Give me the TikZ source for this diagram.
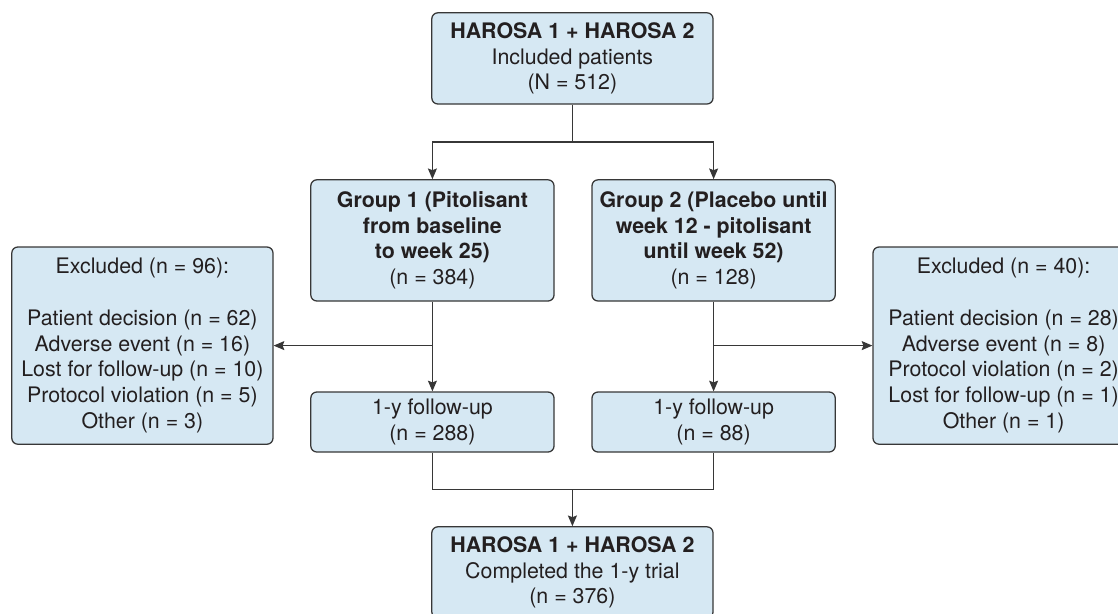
\documentclass[tikz,border=0pt]{standalone}
\usepackage{fontspec}
\setmainfont{TeX Gyre Heros}
\usetikzlibrary{arrows.meta}
\definecolor{boxfill}{RGB}{214,232,243}
\definecolor{boxline}{RGB}{55,55,55}
\definecolor{inktext}{RGB}{35,31,32}
\tikzset{
    every node/.style={draw=boxline, fill=boxfill, rounded corners=0.15cm,
    	line width=0.9pt, align=center, text=inktext,
    	font=\fontsize{15.2}{18.3}\selectfont}
}
\tikzset{
    flow/.style={line width=0.85pt, draw=boxline},
    arrowflow/.style={flow, -{Stealth[length=7.6pt, width=6.4pt, inset=1.2pt]}}
}

\begin{document}
\begin{tikzpicture}
	\useasboundingbox (0cm,0cm) rectangle (27.95cm,-15.325cm);

	\node[minimum width=7.03cm, minimum height=2.28cm] (top) at (14.31cm,-1.46cm)
		{\textbf{HAROSA 1 + HAROSA 2}\\Included patients\\(N = 512)};
	\node[minimum width=6.08cm, minimum height=3.03cm] (g1) at (10.81cm,-6.01cm)
		{\textbf{Group 1 (Pitolisant}\\\textbf{from baseline}\\\textbf{to week 25)}\\(n = 384)};
	\node[minimum width=6.08cm, minimum height=3.03cm] (g2) at (17.84cm,-6.01cm)
		{\textbf{Group 2 (Placebo until}\\\textbf{week 12 - pitolisant}\\\textbf{until week 52)}\\(n = 128)};
	\node[minimum width=6.08cm, minimum height=1.5cm] (f1) at (10.81cm,-10.55cm)
		{1-y follow-up\\(n = 288)};
	\node[minimum width=6.08cm, minimum height=1.5cm] (f2) at (17.84cm,-10.55cm)
		{1-y follow-up\\(n = 88)};
	\node[minimum width=6.53cm, minimum height=4.93cm] (ex1) at (3.56cm,-8.64cm)
		{Excluded (n = 96):\\[18.3pt]Patient decision (n = 62)\\Adverse event (n = 16)\\
		Lost for follow-up (n = 10)\\Protocol violation (n = 5)\\Other (n = 3)};
	\node[minimum width=6.53cm, minimum height=4.93cm] (ex2) at (25.09cm,-8.64cm)
		{Excluded (n = 40):\\[18.3pt]Patient decision (n = 28)\\Adverse event (n = 8)\\
		Protocol violation (n = 2)\\Lost for follow-up (n = 1)\\Other (n = 1)};
	\node[minimum width=7.03cm, minimum height=2.28cm] (bot) at (14.31cm,-14.31cm)
		{\textbf{HAROSA 1 + HAROSA 2}\\Completed the 1-y trial\\(n = 376)};

	\coordinate (split) at (14.31cm,-3.55cm);
	\coordinate (merge) at (14.31cm,-12.23cm);
	\coordinate (side1) at (g1.south |- ex1.east);
	\coordinate (side2) at (g2.south |- ex2.west);

	\draw[flow] (top) -- (split);
	\draw[arrowflow] (split) -| (g1.north);
	\draw[arrowflow] (split) -| (g2.north);
	\draw[arrowflow] (g1) -- (f1); \draw[arrowflow] (g2) -- (f2);
	\draw[arrowflow] (side1) -- (ex1.east);
	\draw[arrowflow] (side2) -- (ex2.west);
	\draw[flow] (f1.south) |- (merge) -| (f2.south);
	\draw[arrowflow] (merge) -- (bot);
\end{tikzpicture}
\end{document}
